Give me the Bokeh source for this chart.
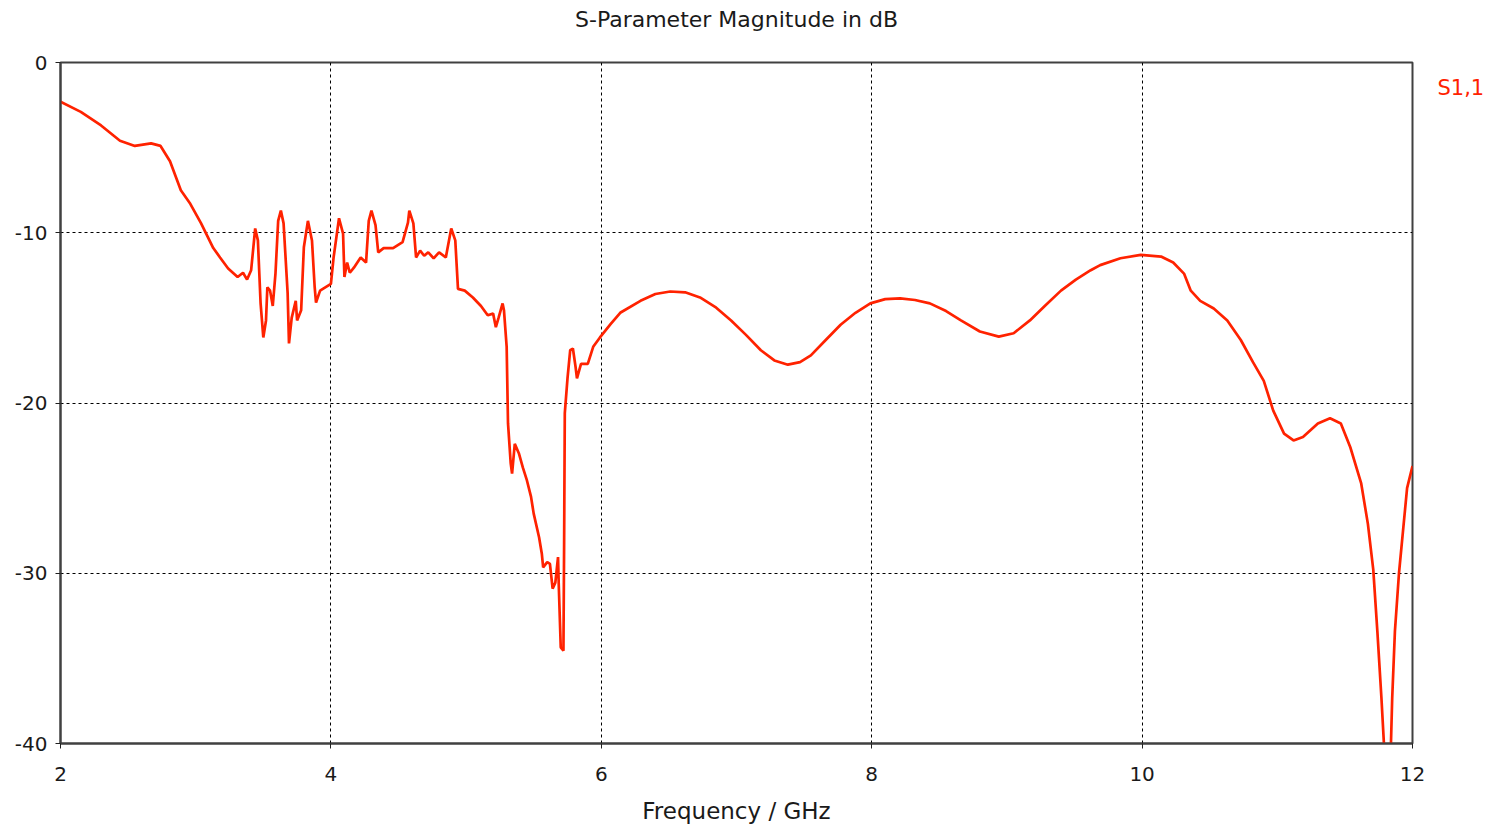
from bokeh.plotting import figure
from bokeh.models import Range1d, FixedTicker, LinearAxis
from bokeh.embed import file_html
from bokeh.resources import INLINE

TITLE = "S-Parameter Magnitude in dB"
X_LABEL = "Frequency / GHz"
SERIES_NAME = "S1,1"
X_TICKS = [2, 4, 6, 8, 10, 12]
Y_TICKS = [0, -10, -20, -30, -40]

freq_ghz = [
    2.00, 2.15, 2.30, 2.44, 2.55, 2.67, 2.74, 2.81, 2.89, 2.96, 3.04, 3.13, 3.18, 3.24, 3.31, 3.35,
    3.38, 3.41, 3.44, 3.46, 3.48, 3.50, 3.52, 3.53, 3.55, 3.57, 3.59, 3.61, 3.63, 3.65,
    3.68, 3.69, 3.71, 3.74, 3.75, 3.78, 3.80, 3.83, 3.86, 3.88, 3.89, 3.92, 4.00, 4.02,
    4.06, 4.09, 4.10, 4.12, 4.14, 4.17, 4.22, 4.26, 4.28, 4.30, 4.33, 4.35, 4.39, 4.46,
    4.53, 4.57, 4.58, 4.61, 4.63, 4.66, 4.69, 4.72, 4.76, 4.80, 4.85, 4.89, 4.92, 4.94,
    4.99, 5.05, 5.11, 5.16, 5.20, 5.22, 5.24, 5.27, 5.28, 5.30, 5.31, 5.33, 5.34, 5.36,
    5.39, 5.42, 5.45, 5.48, 5.50, 5.54, 5.56, 5.57, 5.60, 5.62, 5.64, 5.66, 5.68, 5.685,
    5.70, 5.72, 5.725, 5.73, 5.75, 5.77, 5.79, 5.81, 5.82, 5.85, 5.90, 5.94, 5.99, 6.07,
    6.14, 6.29, 6.40, 6.51, 6.62, 6.73, 6.85, 6.96, 7.07, 7.18, 7.28, 7.38, 7.47, 7.55,
    7.66, 7.77, 7.88, 7.99, 8.10, 8.21, 8.32, 8.43, 8.55, 8.66, 8.80, 8.94, 9.05, 9.17,
    9.28, 9.40, 9.51, 9.62, 9.69, 9.84, 9.99, 10.14, 10.23, 10.31, 10.36, 10.43, 10.53,
    10.63, 10.73, 10.82, 10.90, 10.97, 11.05, 11.12, 11.19, 11.30, 11.39, 11.47, 11.54,
    11.62, 11.67, 11.71, 11.74, 11.77, 11.79, 11.815, 11.84, 11.85, 11.87, 11.90, 11.93,
    11.96, 12.00,
]

s11_db = [
    -2.3, -2.9, -3.7, -4.6, -4.9, -4.75, -4.9, -5.8, -7.5, -8.3, -9.45, -10.9, -11.45, -12.1, -12.6, -12.35,
    -12.75, -12.2, -9.75, -10.45, -14.15, -16.15, -15.15, -13.2, -13.4, -14.3, -12.4, -9.3, -8.7, -9.45,
    -13.55, -16.5, -15.0, -14.0, -15.15, -14.55, -10.85, -9.3, -10.45, -13.2, -14.1, -13.4, -13.0, -11.45,
    -9.15, -10.05, -12.6, -11.75, -12.35, -12.05, -11.45, -11.75, -9.3, -8.7, -9.55, -11.15, -10.9, -10.9,
    -10.55, -9.4, -8.7, -9.45, -11.45, -11.05, -11.35, -11.15, -11.5, -11.15, -11.45, -9.75, -10.45, -13.3,
    -13.4, -13.8, -14.3, -14.85, -14.75, -15.55, -15.0, -14.15, -14.55, -16.7, -21.2, -23.55, -24.15, -22.4,
    -22.95, -23.8, -24.55, -25.5, -26.5, -27.9, -28.85, -29.65, -29.35, -29.45, -30.9, -30.55, -29.05, -30.6,
    -34.35, -34.55, -28.25, -20.6, -18.55, -16.9, -16.8, -17.9, -18.55, -17.7, -17.7, -16.7, -16.15, -15.35,
    -14.7, -14.0, -13.6, -13.45, -13.5, -13.8, -14.4, -15.15, -16.0, -16.9, -17.5, -17.75, -17.6, -17.2,
    -16.3, -15.4, -14.7, -14.15, -13.9, -13.85, -13.95, -14.15, -14.6, -15.15, -15.8, -16.1, -15.9, -15.15,
    -14.3, -13.4, -12.75, -12.2, -11.9, -11.5, -11.3, -11.4, -11.75, -12.4, -13.4, -14.0, -14.45,
    -15.15, -16.3, -17.6, -18.7, -20.45, -21.8, -22.2, -22.0, -21.2, -20.9, -21.2, -22.6,
    -24.7, -27.1, -29.8, -33.4, -37.3, -40.2, -45.0, -40.2, -37.3, -33.4, -30.0, -27.5,
    -25.0, -23.7,
]

FONT = "DejaVu Sans"
TEXT_COLOR = "#1a1a1a"
LINE_COLOR = "#ff2200"

p = figure(
    width=1490, height=827,
    x_range=Range1d(2, 12), y_range=Range1d(-40, 0),
    output_backend="svg", toolbar_location=None,
    min_border_left=60, min_border_right=78, min_border_top=62, min_border_bottom=84,
)

p.line(freq_ghz, s11_db, line_color=LINE_COLOR, line_width=2.7)

p.xaxis.ticker = FixedTicker(ticks=X_TICKS)
p.yaxis.ticker = FixedTicker(ticks=Y_TICKS)
p.yaxis.major_label_overrides = {t: str(t) for t in Y_TICKS}
p.xaxis.axis_label = X_LABEL

for ax in (p.xaxis[0], p.yaxis[0]):
    ax.axis_line_color = "#404040"
    ax.axis_line_width = 2
    ax.major_tick_in = 0
    ax.major_tick_out = 5
    ax.major_tick_line_color = "#202020"
    ax.minor_tick_line_color = None
    ax.major_label_text_font = FONT
    ax.major_label_text_font_size = "20px"
    ax.major_label_text_color = TEXT_COLOR
    ax.axis_label_text_font = FONT
    ax.axis_label_text_font_size = "23px"
    ax.axis_label_text_font_style = "normal"
    ax.axis_label_text_color = TEXT_COLOR

p.xaxis.major_label_standoff = 18
p.xaxis.axis_label_standoff = 14
p.yaxis.major_label_standoff = 8

# chart title drawn as the single label of an axis above the frame
title_axis = LinearAxis(
    ticker=FixedTicker(ticks=[7]), major_label_overrides={7: TITLE},
    axis_line_color=None, major_tick_line_color=None, minor_tick_line_color=None,
    major_tick_out=0, major_tick_in=0, major_label_standoff=31,
    major_label_text_font=FONT, major_label_text_font_size="22px",
    major_label_text_color=TEXT_COLOR,
)
p.add_layout(title_axis, "above")

# series name drawn as the single label of an axis right of the frame
name_axis = LinearAxis(
    ticker=FixedTicker(ticks=[-1.47]), major_label_overrides={-1.47: SERIES_NAME},
    axis_line_color=None, major_tick_line_color=None, minor_tick_line_color=None,
    major_tick_out=0, major_tick_in=0, major_label_standoff=25,
    major_label_text_font=FONT, major_label_text_font_size="21px",
    major_label_text_color=LINE_COLOR,
)
p.add_layout(name_axis, "right")

p.xgrid.grid_line_color = "black"
p.xgrid.grid_line_dash = "3 3"
p.ygrid.grid_line_color = "black"
p.ygrid.grid_line_dash = "3 3"

p.outline_line_color = "#404040"
p.outline_line_width = 2
p.outline_line_alpha = 1

open("out.html", "w").write(file_html(p, INLINE))
